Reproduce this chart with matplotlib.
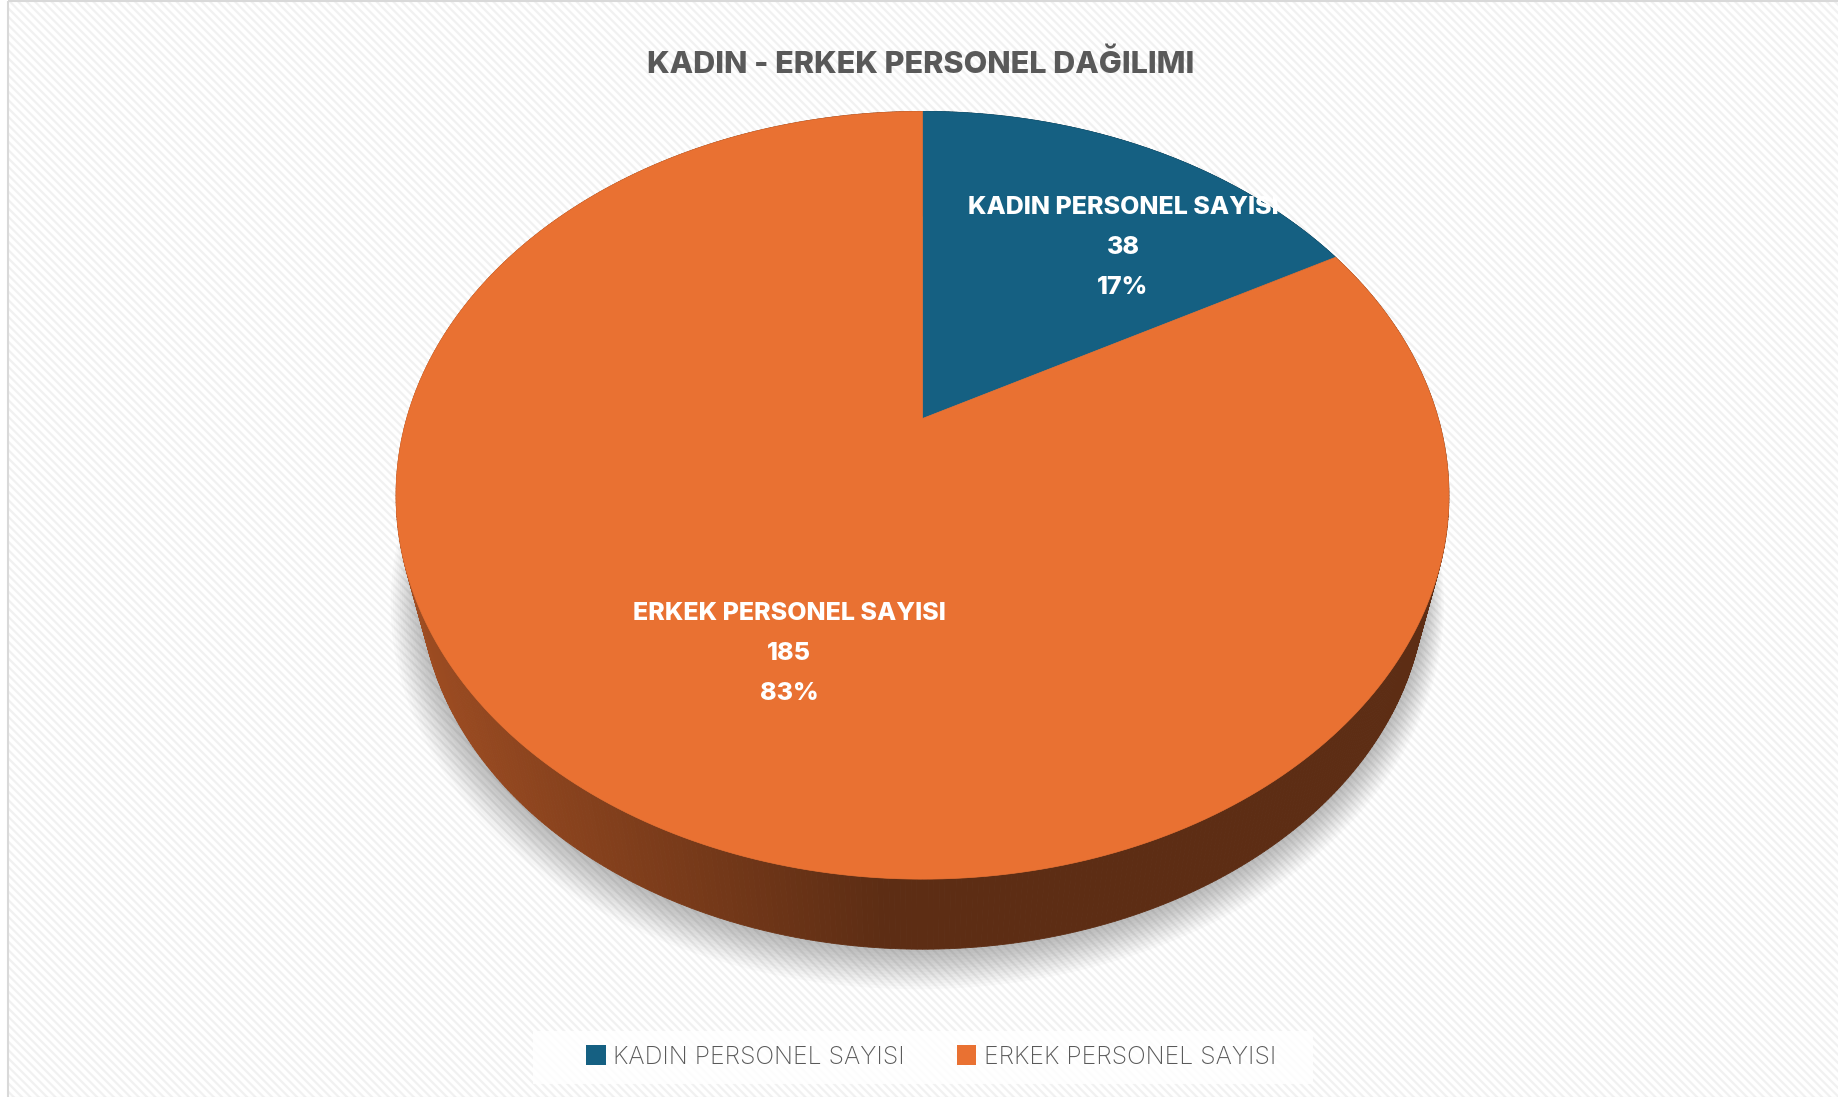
import numpy as np
import matplotlib
matplotlib.use("Agg")
import matplotlib.pyplot as plt
from matplotlib.patches import Rectangle, Polygon, Patch
from matplotlib.colors import to_rgb

# ---- data ----
categories = ["KADIN PERSONEL SAYISI", "ERKEK PERSONEL SAYISI"]
values = [38, 185]
colors = ["#156082", "#E97132"]
title = "KADIN - ERKEK PERSONEL DAĞILIMI"

W, H = 1838, 1097
plt.rcParams["hatch.linewidth"] = 1.6
fig = plt.figure(figsize=(W / 100, H / 100), dpi=100)
fig.patch.set_facecolor("white")
ax = fig.add_axes([0, 0, 1, 1])
ax.set_xlim(0, W)
ax.set_ylim(H, 0)
ax.axis("off")

# background with faint diagonal stripes + border
ax.add_patch(Rectangle((8, 1), W, H, facecolor="white", edgecolor="#F1F1F1",
                       hatch="\\\\\\\\", lw=0, zorder=0))
ax.add_patch(Rectangle((8, 1), W, H, fill=False, edgecolor="#D9D9D9", lw=1.5, zorder=1))

# ---- perspective 3D pie geometry ----
CX, CY = 922.5, 418.5      # projected centre of the top face
A, B, K = 515.8, 368.5, 0.2
S_BOT, YV = 0.955, 2436.0  # bottom face shrinks toward a low vanishing point


def proj(theta_deg, bottom=False, scale=1.0):
    t = np.radians(theta_deg)
    x = np.sin(t) * scale
    y = -np.cos(t) * scale
    d = 1 - K * y
    X = CX + A * x / d
    Y = CY + B * y / d
    if bottom:
        X = CX + (X - CX) * S_BOT
        Y = YV + (Y - YV) * S_BOT
    return X, Y


fracs = np.array(values, float) / np.sum(values)
bounds = np.concatenate([[0], np.cumsum(fracs) * 360])

# soft shadow
tt = np.linspace(0, 360, 361)
for i in range(14):
    sx, sy = proj(tt, bottom=True, scale=1.0 + i * 0.0035)
    ax.add_patch(Polygon(np.column_stack([sx - i * 0.4, sy + 3 + i * 0.9]), closed=True,
                         facecolor="black", edgecolor="none", alpha=0.018, zorder=2))


def side_color(slice_idx, xpix):
    base = np.array(to_rgb(colors[slice_idx]))
    light = base * 0.68
    dark = base * 0.40
    t = np.clip((xpix - 400) / (880 - 400), 0, 1)
    return tuple(light * (1 - t) + dark * t)


# side walls (draw far to near)
steps = np.arange(0, 360, 0.5)
order = np.argsort(-np.cos(np.radians(steps + 0.25)))[::-1]
for j in order:
    t0, t1 = steps[j], steps[j] + 0.5
    mid = (t0 + t1) / 2
    idx = int(np.searchsorted(bounds, mid) - 1)
    idx = min(max(idx, 0), len(values) - 1)
    x0, y0 = proj(t0)
    x1, y1 = proj(t1)
    bx0, by0 = proj(t0, bottom=True)
    bx1, by1 = proj(t1, bottom=True)
    quad = [(x0, y0), (x1, y1), (bx1, by1), (bx0, by0)]
    c = side_color(idx, (x0 + x1) / 2)
    ax.add_patch(Polygon(quad, closed=True, facecolor=c, edgecolor=c, lw=0.6, zorder=3))

# top faces
for i, c in enumerate(colors):
    th = np.linspace(bounds[i], bounds[i + 1], 300)
    px, py = proj(th)
    pts = np.vstack([[CX, CY], np.column_stack([px, py])])
    ax.add_patch(Polygon(pts, closed=True, facecolor=c, edgecolor=c, lw=0.5, zorder=4))

# data labels
label_pos = [(1123, 248), (789, 653)]
for i, (lx, ly) in enumerate(label_pos):
    pct = f"{round(fracs[i] * 100):.0f}%"
    for k, s in enumerate([categories[i], str(values[i]), pct]):
        ax.text(lx, ly + (k - 1) * 40, s, ha="center", va="center", color="white",
                fontsize=18, fontweight="heavy", family="Inter", zorder=6)

# title
ax.text(921, 64, title, ha="center", va="center", color="#595959",
        fontsize=22, fontweight="heavy", family="Inter", zorder=6)

# legend
ax.add_patch(Rectangle((533, 1031), 780, 53, facecolor="white", edgecolor="none",
                       alpha=0.85, zorder=5))
handles = [Patch(facecolor=c, edgecolor="none") for c in colors]
leg = fig.legend(handles, categories, loc="center", bbox_to_anchor=(931 / W, 1 - 1057 / H),
                 ncol=2, frameon=False, handlelength=0.8, handleheight=0.85,
                 handletextpad=0.3, columnspacing=2.1,
                 prop={"family": "Inter", "size": 17.8, "weight": "light"})
for t in leg.get_texts():
    t.set_color("#595959")

fig.savefig("out.png", dpi=100, facecolor=fig.get_facecolor())
